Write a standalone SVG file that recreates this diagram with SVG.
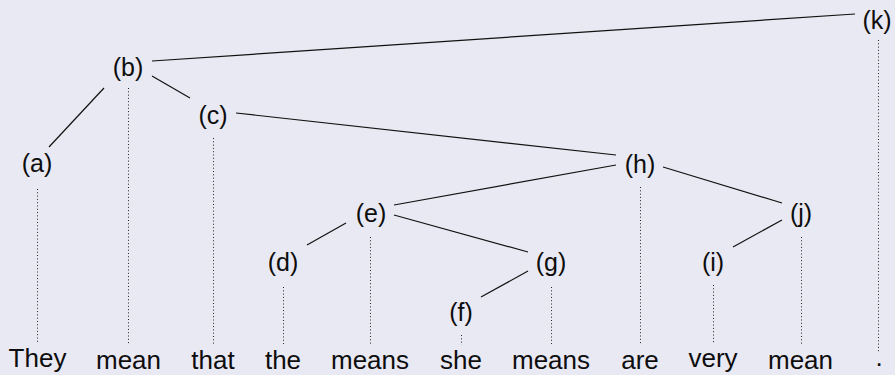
<svg xmlns="http://www.w3.org/2000/svg" width="895" height="375" viewBox="0 0 895 375">
  <style>
    .lbl { font-family: "Liberation Sans", Arial, Helvetica, sans-serif; font-size: 25px; fill: #0d0d0d; text-anchor: middle; }
    .word { font-family: "Liberation Sans", Arial, Helvetica, sans-serif; font-size: 26px; fill: #0d0d0d; text-anchor: middle; }
    .edge { stroke: #111; stroke-width: 1.2; fill: none; }
    .proj { stroke: #222; stroke-width: 1; stroke-dasharray: 1 2.3; fill: none; }
  </style>
  <rect x="0" y="0" width="895" height="375" fill="#e9e9f3"/>

  <!-- tree edges -->
  <g id="edges">
    <line class="edge" x1="152" y1="61" x2="855" y2="14"/>
    <line class="edge" x1="104" y1="88" x2="49" y2="147"/>
    <line class="edge" x1="152" y1="76" x2="190" y2="98"/>
    <line class="edge" x1="236" y1="113" x2="616" y2="155"/>
    <line class="edge" x1="394" y1="205" x2="616" y2="165"/>
    <line class="edge" x1="663" y1="167" x2="782" y2="203"/>
    <line class="edge" x1="782" y1="220" x2="733" y2="247"/>
    <line class="edge" x1="346" y1="223" x2="307" y2="245"/>
    <line class="edge" x1="394" y1="215" x2="528" y2="252"/>
    <line class="edge" x1="528" y1="271" x2="481" y2="297"/>
  </g>

  <!-- dotted projection lines from nodes down to words -->
  <g id="projections">
    <line class="proj" x1="37.5" y1="189" x2="37.5" y2="344"/>
    <line class="proj" x1="128.5" y1="88" x2="128.5" y2="344"/>
    <line class="proj" x1="213.5" y1="138" x2="213.5" y2="344"/>
    <line class="proj" x1="283.5" y1="287" x2="283.5" y2="344"/>
    <line class="proj" x1="370.5" y1="237" x2="370.5" y2="344"/>
    <line class="proj" x1="461.5" y1="335" x2="461.5" y2="345"/>
    <line class="proj" x1="551.5" y1="287" x2="551.5" y2="344"/>
    <line class="proj" x1="640.5" y1="187" x2="640.5" y2="344"/>
    <line class="proj" x1="713.5" y1="285" x2="713.5" y2="344"/>
    <line class="proj" x1="801.5" y1="237" x2="801.5" y2="344"/>
    <line class="proj" x1="878.5" y1="40" x2="878.5" y2="352"/>
  </g>

  <!-- nodes -->
  <g id="node-k"><text class="lbl" x="877" y="29">(k)</text></g>
  <g id="node-b"><text class="lbl" x="128" y="76">(b)</text></g>
  <g id="node-c"><text class="lbl" x="213" y="124">(c)</text></g>
  <g id="node-a"><text class="lbl" x="37" y="172">(a)</text></g>
  <g id="node-h"><text class="lbl" x="640" y="173">(h)</text></g>
  <g id="node-e"><text class="lbl" x="371" y="222">(e)</text></g>
  <g id="node-j"><text class="lbl" x="801" y="222">(j)</text></g>
  <g id="node-d"><text class="lbl" x="283" y="271">(d)</text></g>
  <g id="node-g"><text class="lbl" x="551" y="271">(g)</text></g>
  <g id="node-i"><text class="lbl" x="713" y="271">(i)</text></g>
  <g id="node-f"><text class="lbl" x="461" y="321">(f)</text></g>

  <!-- words -->
  <g id="words">
    <text class="word" x="37.5" y="367">They</text>
    <text class="word" x="128.5" y="369">mean</text>
    <text class="word" x="213" y="369">that</text>
    <text class="word" x="283" y="369">the</text>
    <text class="word" x="370" y="369">means</text>
    <text class="word" x="461" y="369">she</text>
    <text class="word" x="551" y="369">means</text>
    <text class="word" x="640" y="369">are</text>
    <text class="word" x="713" y="367">very</text>
    <text class="word" x="800.5" y="369">mean</text>
    <text class="word" x="879" y="366">.</text>
  </g>
</svg>
